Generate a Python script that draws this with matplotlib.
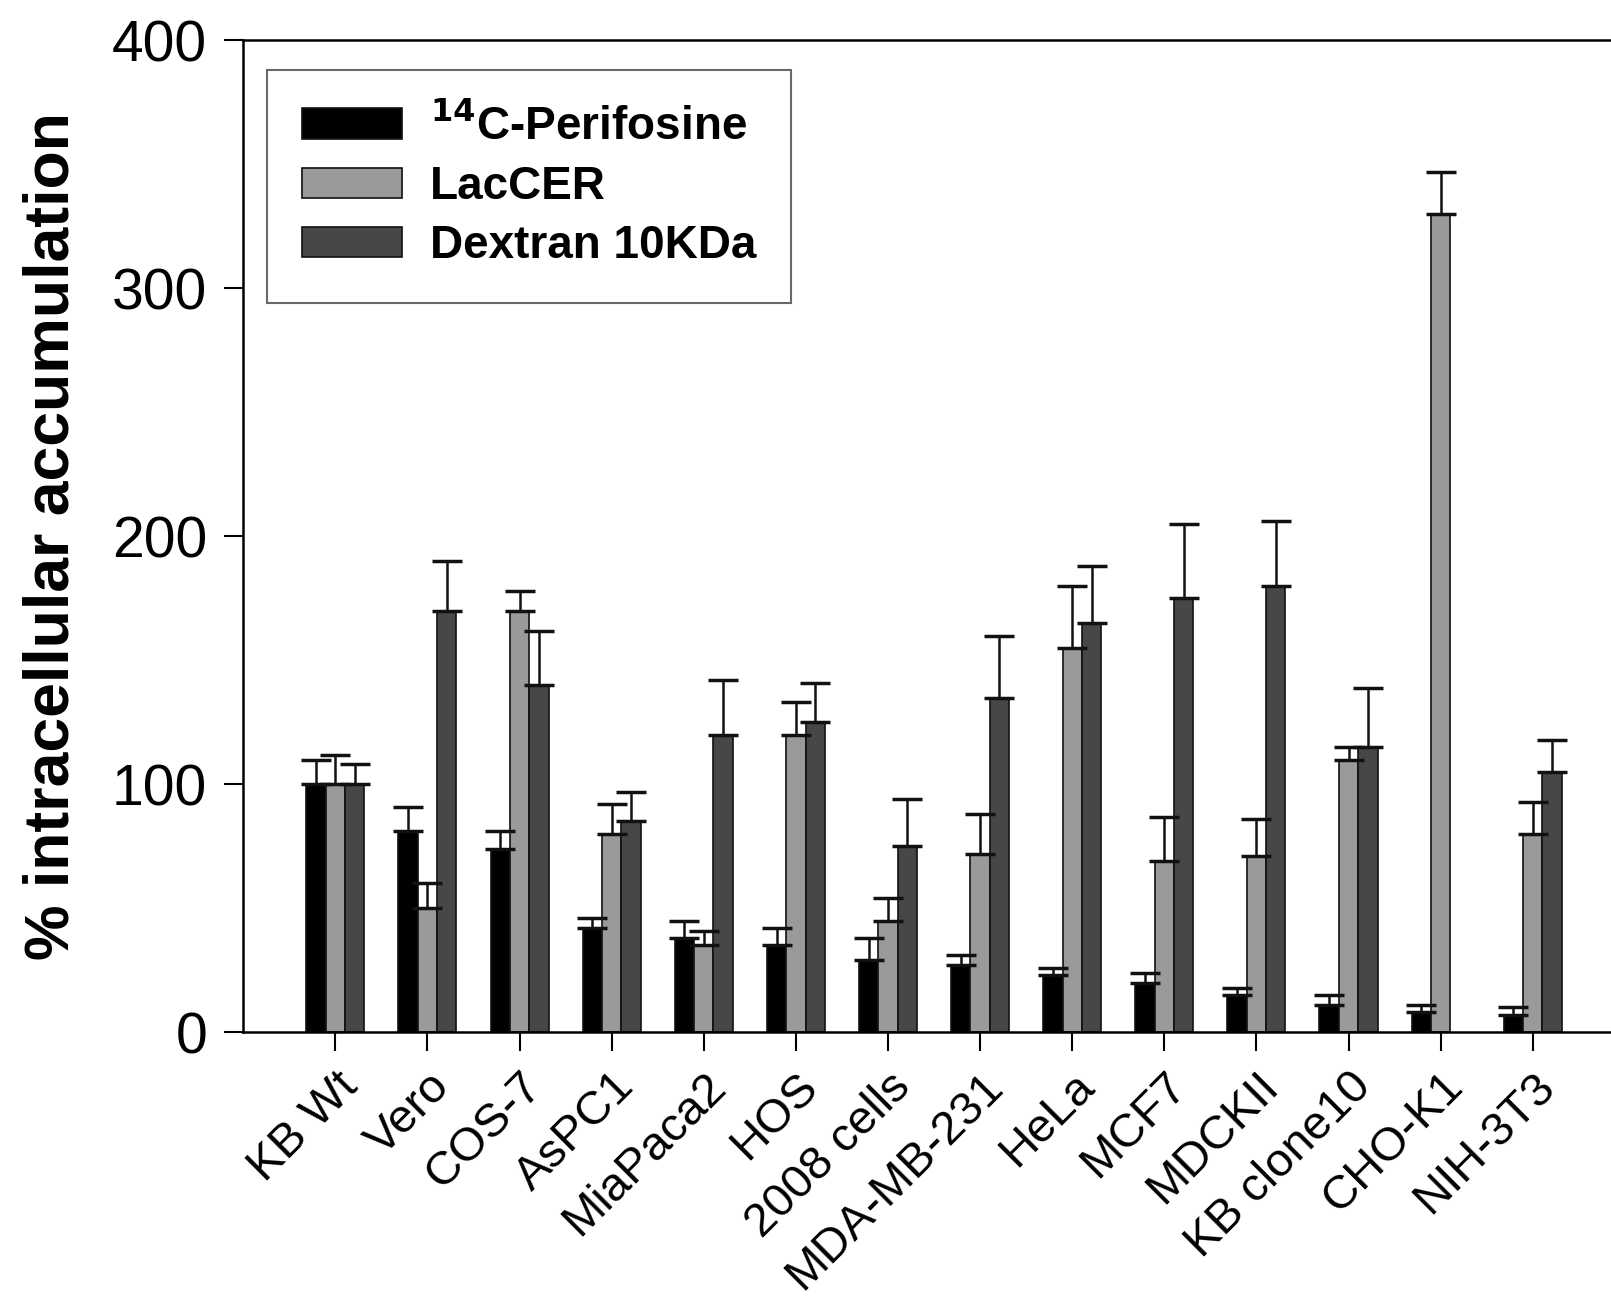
import numpy as np
import matplotlib
matplotlib.use("Agg")
import matplotlib.pyplot as plt

plt.rcParams['font.family'] = ['Liberation Sans', 'DejaVu Sans']

cells = ['KB Wt', 'Vero', 'COS-7', 'AsPC1', 'MiaPaca2', 'HOS', '2008 cells',
         'MDA-MB-231', 'HeLa', 'MCF7', 'MDCKII', 'KB clone10', 'CHO-K1', 'NIH-3T3']

perifosine = [100, 81, 74, 42, 38, 35, 29, 27, 23, 20, 15, 11, 8, 7]
perifosine_err = [10, 10, 7, 4, 7, 7, 9, 4, 3, 4, 3, 4, 3, 3]

laccer = [100, 50, 170, 80, 35, 120, 45, 72, 155, 69, 71, 110, 330, 80]
laccer_err = [12, 10, 8, 12, 6, 13, 9, 16, 25, 18, 15, 5, 17, 13]

dextran = [100, 170, 140, 85, 120, 125, 75, 135, 165, 175, 180, 115, np.nan, 105]
dextran_err = [8, 20, 22, 12, 22, 16, 19, 25, 23, 30, 26, 24, np.nan, 13]

series = [
    ('$^{\\mathbf{14}}$C-Perifosine', perifosine, perifosine_err, '#000000'),
    ('LacCER', laccer, laccer_err, '#9a9a9a'),
    ('Dextran 10KDa', dextran, dextran_err, '#474747'),
]

fig = plt.figure(figsize=(16.11, 13.05), dpi=100)
ax = fig.add_axes([0.151, 0.209, 0.849, 0.760])

x = np.arange(len(cells))
w = 0.21
for i, (name, vals, errs, col) in enumerate(series):
    pos = x + (i - 1) * w
    ax.bar(pos, vals, width=w, color=col, edgecolor='#111111', linewidth=1.2, label=name)
    ax.errorbar(pos, vals, yerr=[np.zeros(len(errs)), errs], fmt='none',
                ecolor='#111111', elinewidth=1.8, capsize=11, capthick=2.5)

ax.set_xlim(-1.0, 13.85)
ax.set_ylim(0, 400)
ax.set_yticks([0, 100, 200, 300, 400])
ax.set_xticks(x)
ax.set_xticklabels(cells, rotation=45, ha='right', rotation_mode='anchor', fontsize=34)
ax.tick_params(axis='y', labelsize=41, direction='out', length=14, width=1.5, pad=12)
ax.tick_params(axis='x', direction='out', length=14, width=1.5, pad=9)
ax.spines['right'].set_visible(False)
for s in ['left', 'top', 'bottom']:
    ax.spines[s].set_linewidth(1.8)

ax.set_ylabel('% intracellular accumulation', fontsize=45, fontweight='bold', labelpad=22)

leg = ax.legend(loc='upper left', bbox_to_anchor=(0.0175, 0.970), borderaxespad=0,
                prop={'weight': 'bold', 'size': 33}, frameon=True, fancybox=False,
                edgecolor='#444444', handlelength=2.2, handleheight=0.65,
                borderpad=0.75, labelspacing=0.33, handletextpad=0.6)
leg.get_frame().set_linewidth(1.5)

fig.savefig('out.png', dpi=100)
